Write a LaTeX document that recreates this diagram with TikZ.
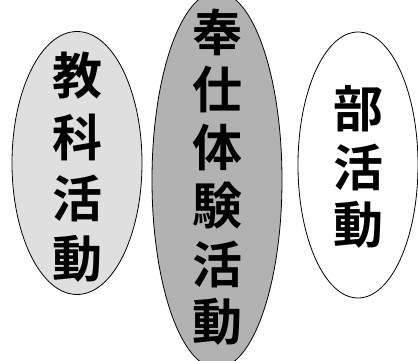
\documentclass[tikz,border=0pt]{standalone}
\usepackage{fontspec}
\newfontfamily\cjk{Noto Sans CJK JP Bold}
\usetikzlibrary{shapes.geometric}

\tikzset{
    katsudo/.style={ellipse, draw=black, line width=0.8pt},
    moji/.style={font=\cjk\fontsize{50}{50}\selectfont, inner sep=0pt}
}

\begin{document}
\begin{tikzpicture}
        [x=1pt, y=-1pt]

        \useasboundingbox (0,0) rectangle (418,361);
        \clip (0,0) rectangle (418,361);

        \node[katsudo, fill=gray!25, minimum width=130pt, minimum height=263pt] (kyoka) at (77, 163) {};
        \node[katsudo, fill=gray!60, minimum width=130pt, minimum height=376pt] (hoshi) at (217, 180) {};
        \node[katsudo, fill=white, minimum width=120pt, minimum height=266pt] (bukatsu) at (358, 165) {};

        \foreach \c[count=\y] in {教, 科, 活, 動}
        \node[moji] (kyoka-\y) at (77, {76+61*(\y-1)}) {\c};

        \foreach \c[count=\y] in {奉, 仕, 体, 験, 活, 動}
        \node[moji] (hoshi-\y) at (217, {32+58*(\y-1)}) {\c};

        \foreach \c[count=\y] in {部, 活, 動}
        \node[moji] (bukatsu-\y) at (358, {109+58*(\y-1)}) {\c};
    \end{tikzpicture}
\end{document}
